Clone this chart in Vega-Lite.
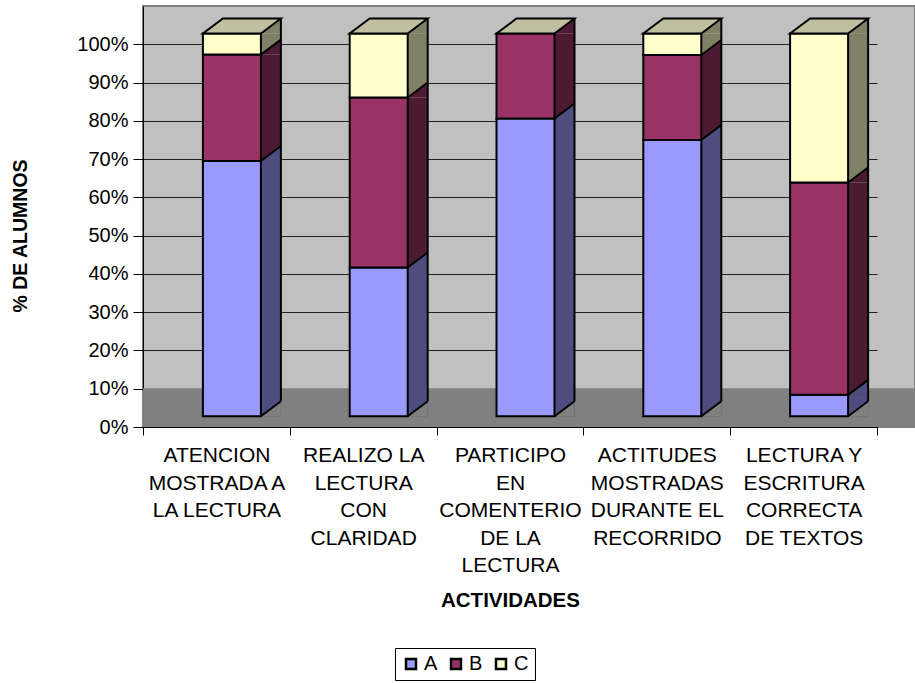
{
  "$schema": "https://vega.github.io/schema/vega-lite/v6.json",
  "width": 772,
  "height": 421,
  "autosize": {"type": "none"},
  "padding": {"left": 143, "top": 6, "right": 0, "bottom": 256},
  "background": "white",
  "config": {
    "font": "Liberation Sans",
    "view": {"fill": "#C0C0C0", "stroke": "#808080", "strokeWidth": 2},
    "axis": {"labelFont": "Liberation Sans", "titleFont": "Liberation Sans", "labelColor": "black", "titleColor": "black", "domainColor": "black", "tickColor": "black", "domainWidth": 1, "tickWidth": 1},
    "legend": {"labelFont": "Liberation Sans"}
  },
  "data": {
    "values": [
      {"act": "ATENCION MOSTRADA A LA LECTURA", "s": "A", "v": 66.7},
      {"act": "ATENCION MOSTRADA A LA LECTURA", "s": "B", "v": 27.8},
      {"act": "ATENCION MOSTRADA A LA LECTURA", "s": "C", "v": 5.5},
      {"act": "REALIZO LA LECTURA CON CLARIDAD", "s": "A", "v": 38.9},
      {"act": "REALIZO LA LECTURA CON CLARIDAD", "s": "B", "v": 44.4},
      {"act": "REALIZO LA LECTURA CON CLARIDAD", "s": "C", "v": 16.7},
      {"act": "PARTICIPO EN COMENTERIO DE LA LECTURA", "s": "A", "v": 77.8},
      {"act": "PARTICIPO EN COMENTERIO DE LA LECTURA", "s": "B", "v": 22.2},
      {"act": "PARTICIPO EN COMENTERIO DE LA LECTURA", "s": "C", "v": 0},
      {"act": "ACTITUDES MOSTRADAS DURANTE EL RECORRIDO", "s": "A", "v": 72.2},
      {"act": "ACTITUDES MOSTRADAS DURANTE EL RECORRIDO", "s": "B", "v": 22.2},
      {"act": "ACTITUDES MOSTRADAS DURANTE EL RECORRIDO", "s": "C", "v": 5.6},
      {"act": "LECTURA Y ESCRITURA CORRECTA DE TEXTOS", "s": "A", "v": 5.6},
      {"act": "LECTURA Y ESCRITURA CORRECTA DE TEXTOS", "s": "B", "v": 55.5},
      {"act": "LECTURA Y ESCRITURA CORRECTA DE TEXTOS", "s": "C", "v": 38.9}
    ]
  },
  "transform": [
    {"stack": "v", "groupby": ["act"], "sort": [{"field": "s", "order": "ascending"}], "offset": "normalize", "as": ["y0", "y1"]}
  ],
  "layer": [
    {
      "transform": [{"filter": "datum.s == 'A'"}],
      "mark": {"type": "rect", "color": "#808080"},
      "encoding": {
        "y": {"datum": 0, "type": "quantitative", "scale": {"domain": [0, 1.1], "nice": false, "zero": true}},
        "y2": {"datum": 0.1}
      }
    },
    {
      "transform": [{"filter": "datum.v > 0"}],
      "mark": {"type": "bar", "size": 20, "xOffset": 54.5, "yOffset": -10.7, "y2Offset": -10.7, "strokeWidth": 0},
      "encoding": {
        "x": {"field": "act", "type": "nominal", "sort": null, "scale": {"range": [0, 734], "paddingInner": 0, "paddingOuter": 0}},
        "y": {"field": "y0", "type": "quantitative", "scale": {"domain": [0, 1.1], "nice": false}},
        "y2": {"field": "y1"},
        "fill": {"field": "s", "type": "nominal", "scale": {"domain": ["C", "B", "A"], "range": ["#808066", "#4D1A33", "#4D4D80"]}, "legend": null}
      }
    },
    {
      "transform": [{"filter": "datum.v > 0"}],
      "mark": {"type": "point", "shape": "M44.5,-10.7L64.5,-25.7L64.5,-10.7Z", "size": 4, "filled": true, "opacity": 1, "strokeWidth": 0},
      "encoding": {
        "x": {"field": "act", "type": "nominal", "sort": null},
        "y": {"field": "y1", "type": "quantitative", "scale": {"domain": [0, 1.1], "nice": false}},
        "fill": {"field": "s", "type": "nominal", "scale": {"domain": ["C", "B", "A"], "range": ["#808066", "#4D1A33", "#4D4D80"]}, "legend": null}
      }
    },
    {
      "transform": [{"filter": "datum.s == 'A'"}],
      "mark": {"type": "point", "shape": "M44.5,-10.7L64.5,-25.7L64.5,-10.7Z", "size": 4, "filled": true, "opacity": 1, "strokeWidth": 0, "fill": "#808080"},
      "encoding": {
        "x": {"field": "act", "type": "nominal", "sort": null},
        "y": {"datum": 0, "type": "quantitative", "scale": {"domain": [0, 1.1], "nice": false}}
      }
    },
    {
      "transform": [{"filter": "datum.v > 0"}],
      "mark": {"type": "bar", "size": 58, "xOffset": 15.5, "yOffset": -10.7, "y2Offset": -10.7, "stroke": "black", "strokeWidth": 2},
      "encoding": {
        "x": {
          "field": "act", "type": "nominal", "sort": null,
          "axis": {
            "title": "ACTIVIDADES", "titleFontSize": 20.5, "titleFontWeight": "bold", "titleY": 179, "titleBaseline": "alphabetic",
            "tickBand": "extent", "tickSize": 8, "labelAngle": 0, "labelAlign": "center", "labelBaseline": "top", "labelFontSize": 21, "labelLineHeight": 27.5, "labelPadding": 9.5,
            "labelOverlap": false, "labelLimit": 0, "grid": false,
            "labelExpr": "datum.value == 'ATENCION MOSTRADA A LA LECTURA' ? ['ATENCION', 'MOSTRADA A', 'LA LECTURA'] : datum.value == 'REALIZO LA LECTURA CON CLARIDAD' ? ['REALIZO LA', 'LECTURA', 'CON', 'CLARIDAD'] : datum.value == 'PARTICIPO EN COMENTERIO DE LA LECTURA' ? ['PARTICIPO', 'EN', 'COMENTERIO', 'DE LA', 'LECTURA'] : datum.value == 'ACTITUDES MOSTRADAS DURANTE EL RECORRIDO' ? ['ACTITUDES', 'MOSTRADAS', 'DURANTE EL', 'RECORRIDO'] : datum.value == 'LECTURA Y ESCRITURA CORRECTA DE TEXTOS' ? ['LECTURA Y', 'ESCRITURA', 'CORRECTA', 'DE TEXTOS'] : ''"
          }
        },
        "y": {
          "field": "y0", "type": "quantitative", "scale": {"domain": [0, 1.1], "nice": false},
          "axis": {
            "values": [0, 0.1, 0.2, 0.3, 0.4, 0.5, 0.6, 0.7, 0.8, 0.9, 1], "format": "%",
            "labelFontSize": 20, "tickSize": 10, "labelPadding": 5,
            "grid": true, "gridColor": "#222222", "gridWidth": 1,
            "title": "% DE ALUMNOS", "titleFontSize": 19.5, "titleFontWeight": "bold",
            "titleAngle": 270, "titleAlign": "center", "titleBaseline": "middle", "titleX": -123, "titleY": 229.5
          }
        },
        "y2": {"field": "y1"},
        "color": {
          "field": "s", "type": "nominal",
          "scale": {"domain": ["A", "B", "C"], "range": ["#9999FF", "#993366", "#FFFFCC"]},
          "legend": {
            "orient": "none", "legendX": 252, "legendY": 642, "direction": "horizontal", "columns": 3, "title": null,
            "symbolType": "square", "symbolSize": 100, "symbolStrokeColor": "black", "symbolStrokeWidth": 2.5,
            "labelFontSize": 20, "labelColor": "black", "labelOffset": 3, "columnPadding": 8, "padding": 6,
            "strokeColor": "black", "fillColor": "white"
          }
        }
      }
    },
    {
      "transform": [{"filter": "datum.v > 0"}],
      "mark": {"type": "point", "shape": "M44.5,-10.7L64.5,-25.7", "size": 4, "filled": false, "opacity": 1, "stroke": "black", "strokeWidth": 2},
      "encoding": {
        "x": {"field": "act", "type": "nominal", "sort": null},
        "y": {"field": "y0", "type": "quantitative", "scale": {"domain": [0, 1.1], "nice": false}}
      }
    },
    {
      "transform": [{"filter": "datum.s == 'A'"}],
      "mark": {"type": "rule", "xOffset": 64.5, "yOffset": -25.7, "y2Offset": -25.7, "stroke": "black", "strokeWidth": 2},
      "encoding": {
        "x": {"field": "act", "type": "nominal", "sort": null},
        "y": {"datum": 0, "type": "quantitative", "scale": {"domain": [0, 1.1], "nice": false}},
        "y2": {"datum": 1}
      }
    },
    {
      "transform": [{"filter": "datum.s == 'A'"}],
      "mark": {"type": "point", "shape": "M-13.5,-10.7L44.5,-10.7L64.5,-25.7L6.5,-25.7Z", "size": 4, "filled": true, "opacity": 1, "fill": "#C0C0A0", "stroke": "black", "strokeWidth": 2},
      "encoding": {
        "x": {"field": "act", "type": "nominal", "sort": null},
        "y": {"datum": 1, "type": "quantitative", "scale": {"domain": [0, 1.1], "nice": false}}
      }
    }
  ]
}
